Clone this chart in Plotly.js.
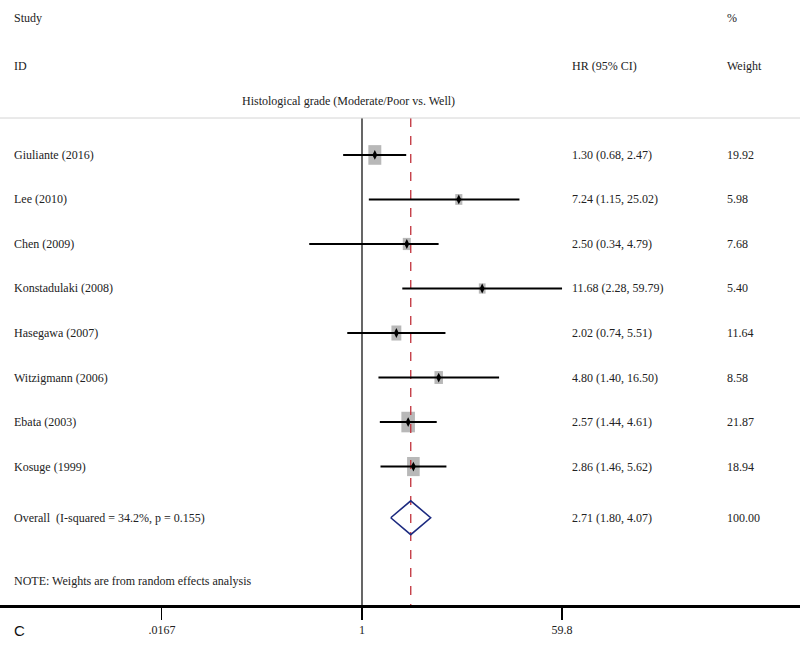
<!DOCTYPE html>
<html>
<head>
<meta charset="utf-8">
<script src="https://cdn.plot.ly/plotly-3.0.1.min.js"></script>
<style>
  body { margin: 0; background: #fff; }
  #forest { width: 800px; height: 649px; }
</style>
</head>
<body>
<div id="forest"></div>
<script>
// Study rows, top to bottom
var studies = ["Giuliante (2016)", "Lee (2010)", "Chen (2009)", "Konstadulaki (2008)",
               "Hasegawa (2007)", "Witzigmann (2006)", "Ebata (2003)", "Kosuge (1999)"];
var hr = [1.30, 7.24, 2.50, 11.68, 2.02, 4.80, 2.57, 2.86];
var lower = [0.68, 1.15, 0.34, 2.28, 0.74, 1.40, 1.44, 1.46];
var upper = [2.47, 25.02, 4.79, 59.79, 5.51, 16.50, 4.61, 5.62];
var weights = [19.92, 5.98, 7.68, 5.40, 11.64, 8.58, 21.87, 18.94];

// pooled estimate (random effects)
var overallHR = 2.71, overallLo = 1.80, overallHi = 4.07;
var overallLabel = "Overall  (I-squared = 34.2%, p = 0.155)";

var tickVals = [0.0167, 1, 59.8];
var tickText = [".0167", "1", "59.8"];

var rows = studies.map((s, i) => i + 1);
var overallRow = 9.15;
var yTop = 0.17, yBottom = 11.11;   // y range (reversed)
var xRange = [-3.215, 3.89];        // log10 units

var serif = "Liberation Serif, serif";
var fmt = v => v.toFixed(2);

// pixels per decade / per row, used to size the weight boxes
var pxPerDecade = 800 / (xRange[1] - xRange[0]);
var pxPerRow = 487 / (yBottom - yTop);

var traces = [];

// reference line at HR = 1 and dashed line at the pooled estimate
traces.push({x: [1, 1], y: [yTop, yBottom], mode: "lines",
             line: {color: "#000", width: 1.2}, hoverinfo: "skip"});
traces.push({x: [overallHR, overallHR], y: [yTop, yBottom], mode: "lines",
             line: {color: "#c0303a", width: 1.3, dash: "dash"}, hoverinfo: "skip"});

// weight boxes (slightly taller than wide, like the original)
var shapes = [{type: "line", xref: "paper", yref: "paper", x0: 0, x1: 1, y0: 1, y1: 1,
               line: {color: "#d4d4d4", width: 1}}];
studies.forEach((s, i) => {
    var bw = 2.9 * Math.sqrt(weights[i]), bh = 4.4 * Math.sqrt(weights[i]);
    var f = Math.pow(10, bw / 2 / pxPerDecade);
    var dy = bh / 2 / pxPerRow;
    shapes.push({
        type: "rect", xref: "x", yref: "y", layer: "below",
        x0: hr[i] / f, x1: hr[i] * f, y0: rows[i] - dy, y1: rows[i] + dy,
        fillcolor: "#b8b8b8", line: {width: 0}
    });
});

// confidence intervals
studies.forEach((s, i) => {
    traces.push({x: [lower[i], upper[i]], y: [rows[i], rows[i]], mode: "lines",
                 line: {color: "#000", width: 2}, hoverinfo: "skip"});
});

// point estimates
traces.push({x: hr, y: rows, mode: "markers",
             marker: {symbol: "diamond-tall", color: "#000", size: 7}, text: studies});

// overall diamond
var dh = 0.38;
traces.push({
    x: [overallLo, overallHR, overallHi, overallHR, overallLo],
    y: [overallRow, overallRow - dh, overallRow, overallRow + dh, overallRow],
    mode: "lines", line: {color: "#1c2a80", width: 1.6}, hoverinfo: "skip"
});

var ann = [];
function txt(text, x, y, xref, yref, opts) {
    ann.push(Object.assign({text: text, x: x, y: y, xref: xref, yref: yref,
        xanchor: "left", yanchor: "middle", showarrow: false,
        font: {family: serif, size: 12, color: "#222"}}, opts || {}));
}

// headers
var py = p => (605 - p) / 487;
txt("Study", 12 / 800, py(18), "paper", "paper");
txt("ID", 12 / 800, py(66), "paper", "paper");
txt("HR (95% CI)", 570 / 800, py(66), "paper", "paper");
txt("%", 725 / 800, py(18), "paper", "paper");
txt("Weight", 725 / 800, py(66), "paper", "paper");
txt("Histological grade (Moderate/Poor vs. Well)", 240 / 800, py(101), "paper", "paper");

// rows
studies.forEach((s, i) => {
    txt(s, 12 / 800, rows[i], "paper", "y");
    txt(fmt(hr[i]) + " (" + fmt(lower[i]) + ", " + fmt(upper[i]) + ")", 570 / 800, rows[i], "paper", "y");
    txt(fmt(weights[i]), 725 / 800, rows[i], "paper", "y");
});
txt(overallLabel, 12 / 800, overallRow, "paper", "y");
txt(fmt(overallHR) + " (" + fmt(overallLo) + ", " + fmt(overallHi) + ")", 570 / 800, overallRow, "paper", "y");
txt("100.00", 725 / 800, overallRow, "paper", "y");

txt("NOTE: Weights are from random effects analysis", 12 / 800, py(581), "paper", "paper");
txt("C", 12 / 800, py(630), "paper", "paper",
    {font: {family: "Liberation Sans, Arial, sans-serif", size: 15, color: "#111"}});

var layout = {
    width: 800, height: 649,
    margin: {l: 0, r: 0, t: 118, b: 44},
    paper_bgcolor: "#fff", plot_bgcolor: "#fff",
    showlegend: false,
    xaxis: {
        type: "log", range: xRange,
        tickvals: tickVals, ticktext: tickText,
        ticks: "outside", ticklen: 12, tickwidth: 1.2, tickcolor: "#000",
        showline: true, linecolor: "#000", linewidth: 3,
        showgrid: false, zeroline: false,
        tickfont: {family: serif, size: 12, color: "#222"}
    },
    yaxis: {
        range: [yBottom, yTop], visible: false,
        showgrid: false, zeroline: false
    },
    shapes: shapes,
    annotations: ann
};

Plotly.newPlot("forest", traces, layout, {displayModeBar: false, staticPlot: true});
</script>
</body>
</html>
